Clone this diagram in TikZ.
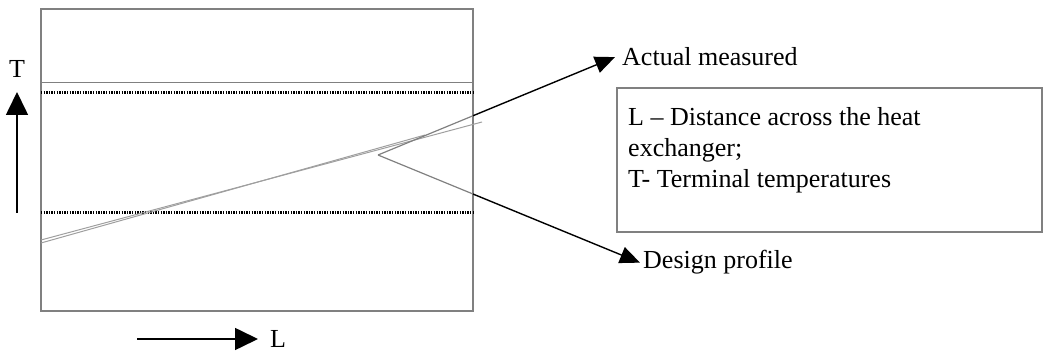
\documentclass[tikz,border=0pt]{standalone}
\usepackage{fontspec}
\setmainfont{Liberation Serif}
\usetikzlibrary{arrows.meta}
\tikzset{
  frame/.style={draw=gray, line width=1.3pt},
  limit/.style={draw=black, line width=3pt, dash pattern=on 1.3pt off 1.3pt},
  profile/.style={draw=gray!75, line width=1pt},
  axis/.style={-{Triangle[length=23pt,width=22pt]}, line width=1.6pt},
  pointer/.style={-{Triangle[length=20pt,width=17pt]}, line width=1.4pt},
  lbl/.style={font=\fontsize{26}{30}\selectfont, inner sep=0pt},
}
\begin{document}
\begin{tikzpicture}[x=1pt,y=-1pt]
\useasboundingbox (0,0) rectangle (1044,352);
% chart frame
\draw[frame] (41,9) rectangle (473,311);
\coordinate (ne) at (473,9); \coordinate (se) at (473,311);
\draw[frame, line width=1pt] (41,83) -- (473,83);
\draw[limit] (41,93) -- (473,93);
\draw[limit] (41,213) -- (473,213);
% profiles
\draw[profile] (41,240) -- (482,122);
\draw[profile] (41,243) -- (425,135);
% axes
\node[lbl, anchor=base] (tlab) at (17,78) {T};
\coordinate (tb) at (17,213); \coordinate (ttip) at (17,92);
\draw[axis] (tb) -- (ttip);
\node[lbl, anchor=base west] (llab) at (270,348) {L};
\coordinate (lb) at (137,339); \coordinate (ltip) at (258,339);
\draw[axis] (lb) -- (ltip);
% labels and pointers
\node[lbl, anchor=base west, inner xsep=7pt] (act) at (615,66) {Actual measured};
\node[lbl, anchor=base west, inner xsep=3pt] (des) at (640,269) {Design profile};
\coordinate (src) at (378,155);
\coordinate (a1) at (intersection of src--act.west and ne--se);
\coordinate (d1) at (intersection of src--des.west and ne--se);
\draw[gray, line width=1.2pt] (src) -- (a1);
\draw[gray, line width=1.2pt] (src) -- (d1);
\draw[pointer] (a1) -- (act.west);
\draw[pointer] (d1) -- (des.west);
% legend
\draw[frame] (617,88) rectangle (1042,232);
\node[lbl, anchor=base west] (leg1) at (628,126) {L -- Distance across the heat};
\node[lbl, anchor=base west] (leg2) at (628,157) {exchanger;};
\node[lbl, anchor=base west] (leg3) at (628,188) {T- Terminal temperatures};
\end{tikzpicture}
\end{document}
